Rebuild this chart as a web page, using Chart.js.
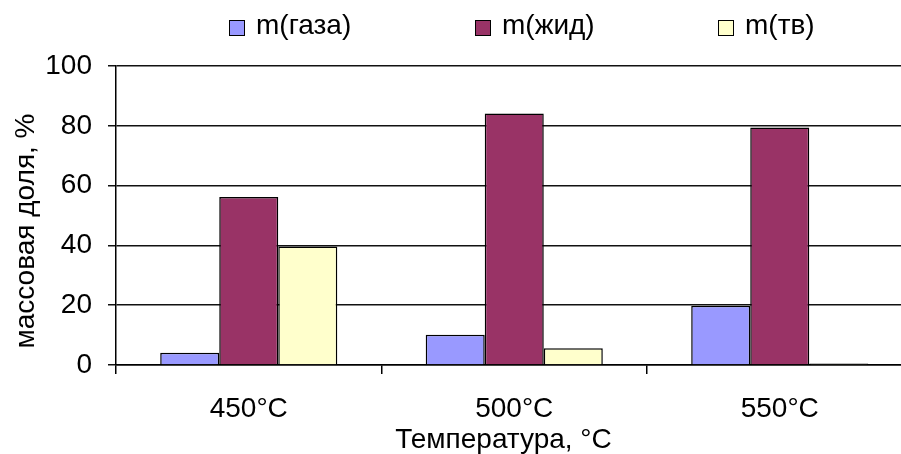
<!DOCTYPE html>
<html><head><meta charset="utf-8">
<script src="https://cdn.jsdelivr.net/npm/chart.js@4.4.1/dist/chart.umd.min.js"></script>
<style>
html,body{margin:0;padding:0;overflow:hidden;background:#fff;width:901px;height:454px}
#wrap{position:relative;width:901px;height:454px;overflow:hidden}
canvas{position:absolute;left:0;top:0}
.lg{position:absolute;font-family:'Liberation Sans',Arial,sans-serif;font-size:28px;line-height:28px;color:#000;white-space:nowrap}
.sw{position:absolute;width:16px;height:16px;box-sizing:border-box;border:1.5px solid #000}
</style></head><body>
<div id="wrap"><canvas id="c" width="914" height="454"></canvas><div id="legend"></div></div>
<script>
// ---- data ----
const categories = ['450°C', '500°C', '550°C'];
const seriesNames = ['m(газа)', 'm(жид)', 'm(тв)'];
const gasValues = [4.1, 10.1, 19.8];
const liquidValues = [56.2, 84.1, 79.4];
const solidValues = [39.6, 5.6, 0.5];
const yTicks = [0, 20, 40, 60, 80, 100];
const yTitle = 'массовая доля, %';
const xTitle = 'Температура, °C';

// ---- styles ----
const colors = ['#9999FF', '#993366', '#FFFFCC'];
const FONT = "'Liberation Sans', Arial, sans-serif";
const legendSquareX = [229, 475, 718];
const legendTextX = [256, 502, 745];

// HTML legend
const lg = document.getElementById('legend');
seriesNames.forEach((name, i) => {
  const sw = document.createElement('div');
  sw.className = 'sw';
  sw.style.left = legendSquareX[i] + 'px';
  sw.style.top = '20px';
  sw.style.background = colors[i];
  lg.appendChild(sw);
  const t = document.createElement('div');
  t.className = 'lg';
  t.style.left = legendTextX[i] + 'px';
  t.style.top = '11px';
  t.textContent = name;
  lg.appendChild(t);
});

const axisTitles = {
  id: 'axisTitles',
  afterDraw(chart) {
    const ctx = chart.ctx;
    ctx.save();
    ctx.font = '28px ' + FONT;
    ctx.fillStyle = '#000';
    ctx.textAlign = 'center';
    ctx.textBaseline = 'middle';
    ctx.fillText(xTitle, 503.5, 440);
    ctx.translate(26, 231);
    ctx.rotate(-Math.PI / 2);
    ctx.fillText(yTitle, 0, 0);
    ctx.restore();
  }
};

const tickFont = { family: FONT, size: 28 };
new Chart(document.getElementById('c'), {
  type: 'bar',
  data: {
    labels: categories,
    datasets: [
      { label: seriesNames[0], data: gasValues, backgroundColor: colors[0], borderColor: '#000', borderWidth: 1.5 },
      { label: seriesNames[1], data: liquidValues, backgroundColor: colors[1], borderColor: '#000', borderWidth: 1.5 },
      { label: seriesNames[2], data: solidValues, backgroundColor: colors[2], borderColor: '#000', borderWidth: 1.5 }
    ]
  },
  options: {
    responsive: false,
    devicePixelRatio: 1,
    animation: false,
    layout: { padding: { left: 0, top: 66, right: 1.5, bottom: 0 } },
    plugins: { legend: { display: false }, tooltip: { enabled: false } },
    datasets: { bar: { categoryPercentage: 0.667, barPercentage: 1 } },
    scales: {
      x: {
        offset: true,
        grid: { offset: true, drawOnChartArea: false, drawTicks: true, tickLength: 9, color: '#000', lineWidth: 1.5 },
        border: { display: true, color: '#000', width: 1.5 },
        ticks: { font: tickFont, color: '#000', padding: 18, maxRotation: 0 },
        afterFit(s) { s.height = 89; }
      },
      y: {
        min: 0, max: 100,
        afterBuildTicks(s) { s.ticks = yTicks.map(v => ({ value: v })); },
        grid: { color: '#111', lineWidth: 1.5, tickLength: 8 },
        border: { display: true, color: '#000', width: 1.5 },
        ticks: { font: tickFont, color: '#000', padding: 16 },
        afterFit(s) { s.width = 116; }
      }
    }
  },
  plugins: [axisTitles]
});
</script>
</body></html>
